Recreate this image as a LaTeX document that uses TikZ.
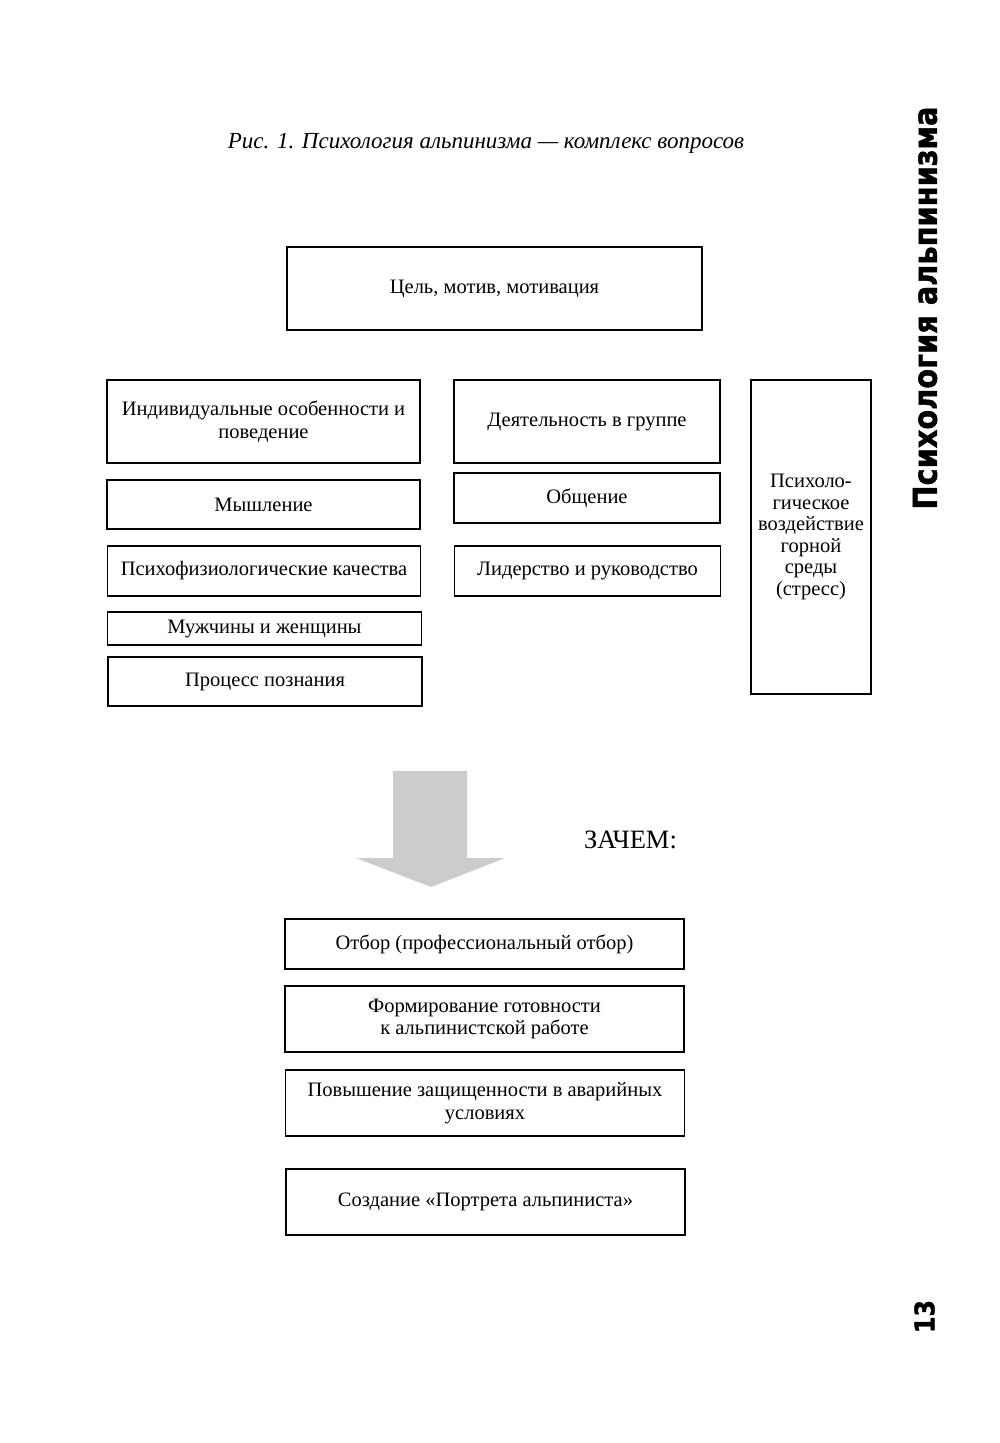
\documentclass[tikz,border=0pt]{standalone}
\usepackage{fontspec}
\setmainfont{Liberation Serif}
\newfontfamily\sidefont{DejaVu Sans}[BoldFeatures={FakeBold=1.5}]
\usetikzlibrary{positioning}
\tikzset{
  bx/.style={draw, line width=1.1pt, inner sep=0pt, align=center,
    font=\fontsize{20.5}{22.5}\selectfont},
}
\begin{document}
\begin{tikzpicture}[x=1pt,y=-1pt]
\useasboundingbox (0,0) rectangle (1000,1443);
\fill[white] (0,0) rectangle (1000,1443);

% caption
\node[font=\fontsize{23}{27}\selectfont\itshape] (cap) at (486,143)
  {Рис. 1. Психология альпинизма — комплекс вопросов};

% top box
\node[bx, minimum width=415pt, minimum height=83pt] (goal) at (494.5,288.5)
  {Цель, мотив, мотивация};

% left column
\node[bx, minimum width=313pt, minimum height=83pt] (ind) at (263.5,421.5)
  {Индивидуальные особенности и\\поведение};
\node[bx, minimum width=313pt, minimum height=49pt] (think) at (263.5,504.5)
  {Мышление};
\node[bx, minimum width=313pt, minimum height=50pt] (psyph) at (264,571)
  {Психофизиологические качества};
\node[bx, minimum width=314pt, minimum height=33pt] (mw) at (264.5,628.5)
  {Мужчины и женщины};
\node[bx, minimum width=314pt, minimum height=49pt] (cogn) at (265,681.5)
  {Процесс познания};

% middle column
\node[bx, minimum width=266pt, minimum height=83pt] (grp) at (587,421.5)
  {Деятельность в группе};
\node[bx, minimum width=266pt, minimum height=50pt] (comm) at (587,498)
  {Общение};
\node[bx, minimum width=266pt, minimum height=50pt] (lead) at (587.5,571)
  {Лидерство и руководство};

% right column
\node[bx, minimum width=120pt, minimum height=314pt, font=\fontsize{20.5}{21.5}\selectfont] (env) at (811,537)
  {Психоло-\\гическое\\воздействие\\горной\\среды\\(стресс)};

% arrow
\fill[black!20] (393,771) -- (467,771) -- (467,858) -- (505,858)
  -- (431,887) -- (356,858) -- (393,858) -- cycle;

\node[font=\fontsize{26.5}{30}\selectfont] (why) at (630.5,840) {ЗАЧЕМ:};

% bottom boxes
\node[bx, minimum width=399pt, minimum height=50pt] (sel) at (484.5,944)
  {Отбор (профессиональный отбор)};
\node[bx, minimum width=399pt, minimum height=66pt] (ready) at (484.5,1019)
  {Формирование готовности\\к альпинистской работе};
\node[bx, minimum width=399pt, minimum height=66pt] (safe) at (485,1103)
  {Повышение защищенности в аварийных\\условиях};
\node[bx, minimum width=399pt, minimum height=66pt] (port) at (485.5,1202)
  {Создание «Портрета альпиниста»};

% side title and page number
\node[rotate=90, inner sep=0pt] (side) at (925,308)
  {\resizebox{403pt}{24pt}{\sidefont\bfseries Психология альпинизма}};
\node[rotate=90, inner sep=0pt] (page) at (924.5,1316.5)
  {\resizebox{33pt}{20pt}{\sidefont\bfseries 13}};
\end{tikzpicture}
\end{document}
